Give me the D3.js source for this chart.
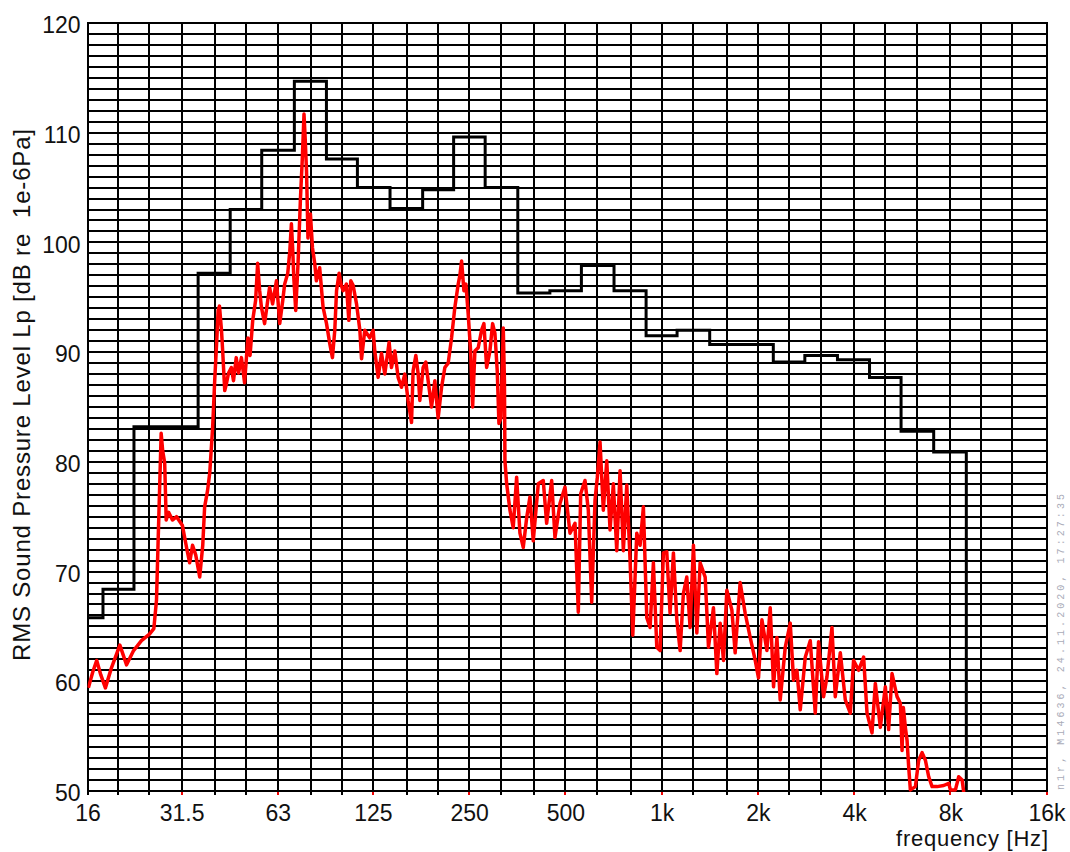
<!DOCTYPE html>
<html>
<head>
<meta charset="utf-8">
<script src="https://cdn.jsdelivr.net/npm/d3@7"></script>
<style>
  body { margin: 0; background: #fff; }
  svg { display: block; font-family: "Liberation Sans", Arial, sans-serif; }
  .grid line { stroke: #000; stroke-width: 2; shape-rendering: crispEdges; }
  .frame { fill: none; stroke: #000; stroke-width: 2; shape-rendering: crispEdges; }
  .axis text { fill: #111; font-size: 23px; }
  .axis path, .axis line { display: none; }
  .bands { fill: none; stroke: #000; stroke-width: 3; stroke-linejoin: miter; }
  .spectrum { fill: none; stroke: #ff0000; stroke-width: 3.5; stroke-linejoin: round; }
  .axis--label { fill: #111; font-size: 24px; }
  .stamp { fill: #a9abb8; font-family: "Liberation Mono", monospace; font-size: 10px; }
</style>
</head>
<body>
<div class="graph"></div>
<script>
// third-octave band levels (black steps)
var bandFreqs = [16, 20, 25, 31.5, 40, 50, 63, 80, 100, 125, 160, 200, 250, 315, 400,
                 500, 630, 800, 1000, 1250, 1600, 2000, 2500, 3150, 4000, 5000, 6300, 8000];
var bandLevels = [65.8, 68.4, 83.2, 83.2, 97.2, 103.0, 108.4, 114.7, 107.6, 105.0, 103.1, 104.8, 109.6, 105.0, 95.4,
                  95.6, 97.9, 95.6, 91.5, 92.0, 90.7, 90.7, 89.1, 89.7, 89.3, 87.7, 82.8, 80.9];

// vertical grid (third octaves) and axis ticks
var gridFreqs = [16, 20, 25, 31.5, 40, 50, 63, 80, 100, 125, 160, 200, 250, 315, 400, 500, 630, 800,
                 1000, 1250, 1600, 2000, 2500, 3150, 4000, 5000, 6300, 8000, 10000, 12500, 16000];
var tickFreqs = [16, 31.5, 63, 125, 250, 500, 1000, 2000, 4000, 8000, 16000];
var tickLabels = ["16", "31.5", "63", "125", "250", "500", "1k", "2k", "4k", "8k", "16k"];
var yTicks = [50, 60, 70, 80, 90, 100, 110, 120];

// narrow band spectrum (red)
var redFreqs = [16.1, 16.6, 17.1, 17.6, 18.2, 19.0, 20.2, 21.2, 22.3, 23.6, 25.0, 25.8, 26.3, 26.6, 26.9, 27.2, 27.5, 27.9, 28.2, 28.7,
  29.5, 30.4, 31.7, 32.7, 33.4, 34.1, 34.9, 35.9, 36.7, 37.2, 38.0, 38.6, 39.4, 40.0, 40.6, 41.0, 41.4, 42.0, 42.4, 43.0,
  43.5, 44.2, 45.1, 45.8, 46.7, 47.5, 48.5, 49.6, 50.8, 51.6, 52.6, 53.7, 54.5, 55.3, 56.0, 57.3, 58.6, 59.4, 60.7, 62.4,
  63.9, 65.3, 66.2, 67.7, 68.7, 69.5, 70.2, 70.7, 71.7, 72.9, 74.2, 75.2, 76.1, 76.8, 77.5, 78.3, 79.7, 80.9, 82.2, 83.2,
  85.2, 87.3, 89.5, 91.6, 93.4, 95.0, 96.2, 98.0, 99.5, 100.9, 103.3, 105.1, 106.6, 108.4, 111.1, 113.8, 115.2, 117.9, 122.2, 125.2,
  126.7, 129.8, 133.0, 136.2, 140.5, 142.9, 146.4, 149.9, 153.6, 157.3, 161.1, 165.1, 167.0, 170.3, 173.2, 175.3, 179.5, 183.0, 186.1, 190.7,
  195.3, 200.0, 205.0, 209.9, 215.0, 220.3, 225.6, 231.1, 233.9, 236.8, 240.8, 244.3, 248.3, 252.7, 256.4, 260.6, 266.9, 273.5, 278.1, 283.6,
  290.4, 296.1, 301.1, 306.1, 309.9, 314.4, 319.7, 322.4, 323.6, 327.6, 335.5, 343.5, 352.0, 360.5, 369.2, 378.4, 387.4, 396.8, 411.4, 426.4,
  437.0, 453.1, 464.0, 481.0, 498.7, 517.0, 536.0, 548.9, 558.4, 576.0, 589.9, 604.5, 619.1, 629.5, 641.9, 657.3, 673.7, 689.9, 706.5, 724.0,
  741.5, 759.4, 778.2, 797.0, 812.7, 836.4, 856.5, 877.2, 898.9, 920.6, 942.7, 966.1, 989.3, 1013, 1038, 1063, 1089, 1116, 1143, 1170,
  1199, 1228, 1258, 1289, 1320, 1369, 1402, 1453, 1489, 1525, 1562, 1600, 1659, 1699, 1761, 1826, 1893, 1963, 2010, 2060,
  2135, 2187, 2240, 2295, 2350, 2437, 2526, 2587, 2651, 2715, 2815, 2918, 3025, 3098, 3212, 3291, 3412, 3494, 3623, 3756,
  3894, 3987, 4134, 4286, 4392, 4553, 4663, 4834, 5012, 5132, 5259, 5453, 5584, 5653, 5706, 5789, 5861, 5929, 6002, 6222,
  6372, 6530, 6688, 6849, 7018, 7277, 7631, 7911, 8008, 8302, 8502, 8713, 8814];
var redLevels = [59.4, 60.8, 61.9, 60.6, 59.4, 61.2, 63.3, 61.5, 62.8, 63.7, 64.3, 64.8, 67.4, 72.6, 77.6, 82.6, 81.0, 79.9, 74.7, 75.4,
  74.7, 75.0, 74.2, 72.1, 70.8, 72.4, 71.5, 69.5, 72.4, 75.9, 77.4, 79.0, 83.1, 87.4, 91.1, 93.8, 94.2, 92.0, 89.9, 86.5,
  87.1, 88.1, 88.6, 87.4, 89.5, 88.1, 89.5, 87.2, 91.3, 89.7, 92.9, 94.7, 98.1, 95.6, 94.1, 92.6, 94.7, 95.9, 94.4, 96.5,
  92.6, 94.7, 96.2, 97.2, 99.2, 101.7, 99.2, 96.8, 93.8, 98.1, 104.1, 107.7, 111.7, 109.3, 106.5, 100.4, 102.6, 99.5, 98.1, 96.5,
  97.7, 94.1, 92.6, 90.8, 89.5, 92.0, 95.6, 97.2, 96.1, 95.6, 96.2, 92.9, 96.5, 96.1, 94.4, 92.0, 89.4, 92.0, 91.3, 92.0,
  90.1, 87.7, 89.9, 88.0, 90.9, 88.6, 90.1, 87.7, 86.8, 88.0, 85.6, 83.6, 88.3, 89.7, 88.0, 85.6, 88.6, 89.1, 87.4, 85.0,
  87.4, 84.0, 86.8, 88.6, 89.0, 91.3, 94.1, 96.2, 97.0, 98.3, 95.6, 96.2, 93.5, 90.1, 85.0, 90.1, 90.4, 92.0, 92.6, 88.6,
  90.1, 92.6, 91.7, 88.3, 83.5, 84.0, 92.2, 87.4, 80.1, 78.0, 75.6, 74.0, 78.6, 73.5, 72.2, 74.9, 76.8, 72.8, 78.0, 78.3,
  74.4, 78.3, 73.1, 76.2, 77.7, 73.5, 74.4, 66.3, 77.1, 78.3, 75.6, 67.2, 76.5, 78.6, 81.8, 75.6, 80.1, 73.8, 78.0, 71.9,
  79.2, 71.9, 77.9, 71.0, 64.2, 73.5, 72.4, 75.9, 65.8, 64.9, 70.8, 63.1, 62.8, 71.7, 71.8, 66.2, 71.7, 65.6, 62.8, 68.0,
  69.5, 64.9, 72.4, 64.4, 70.8, 69.5, 63.1, 66.7, 60.7, 65.3, 61.9, 68.3, 66.5, 62.6, 69.0, 66.2, 64.0, 61.9, 60.3, 65.6,
  62.8, 66.7, 59.5, 64.0, 58.3, 63.1, 65.3, 60.1, 61.0, 57.4, 62.2, 63.7, 57.1, 63.6, 58.6, 60.4, 64.9, 58.6, 62.6, 58.3,
  57.1, 61.9, 61.0, 62.2, 57.1, 55.3, 59.8, 55.8, 59.5, 55.6, 60.7, 58.6, 58.0, 53.7, 57.6, 55.8, 54.6, 52.2, 50.1, 50.4,
  52.8, 53.5, 52.8, 51.3, 50.4, 50.4, 50.5, 50.7, 50.1, 50.1, 51.3, 51.0, 49.9];

var options = { width: 1070, height: 852 },
    plot = { left: 87.5, right: 1046.5, top: 23, bottom: 791 };

var xScale = d3.scaleLog()
    .domain([16, 16000])
    .range([plot.left, plot.right]);
var yScale = d3.scaleLinear()
    .domain([50, 120])
    .range([plot.bottom, plot.top]);

var svg = d3.select(".graph").append("svg")
    .attr("width", options.width)
    .attr("height", options.height);

svg.append("defs").append("clipPath")
    .attr("id", "plot-clip")
  .append("rect")
    .attr("x", plot.left)
    .attr("y", plot.top - 2)
    .attr("width", plot.right - plot.left)
    .attr("height", plot.bottom - plot.top + 3);

// grid: one line per dB, one per third octave
var grid = svg.append("g").attr("class", "grid");
grid.selectAll(".h").data(d3.range(50, 121, 1)).enter().append("line")
    .attr("class", "h")
    .attr("x1", plot.left).attr("x2", plot.right)
    .attr("y1", function(d) { return yScale(d); })
    .attr("y2", function(d) { return yScale(d); });
grid.selectAll(".v").data(gridFreqs).enter().append("line")
    .attr("class", "v")
    .attr("y1", plot.top).attr("y2", plot.bottom)
    .attr("x1", function(d) { return xScale(d); })
    .attr("x2", function(d) { return xScale(d); });

// little ticks under the x axis
svg.append("g").selectAll("line").data(gridFreqs).enter().append("line")
    .attr("x1", function(d) { return xScale(d); })
    .attr("x2", function(d) { return xScale(d); })
    .attr("y1", plot.bottom)
    .attr("y2", plot.bottom + 4)
    .attr("stroke", function(d) { return (tickFreqs.indexOf(d) > 0) ? "#e00" : "#000"; })
    .attr("stroke-width", 2)
    .attr("shape-rendering", "crispEdges");

svg.append("rect")
    .attr("class", "frame")
    .attr("x", plot.left).attr("y", plot.top)
    .attr("width", plot.right - plot.left)
    .attr("height", plot.bottom - plot.top);

// band steps: edges halfway (log) between band centres
var stepPts = [];
bandFreqs.forEach(function(f, i) {
  var lo = i === 0 ? 16 : Math.sqrt(bandFreqs[i - 1] * f),
      hi = i === bandFreqs.length - 1 ? f * Math.pow(2, 1 / 6) : Math.sqrt(bandFreqs[i + 1] * f);
  stepPts.push([lo, bandLevels[i]]);
  stepPts.push([hi, bandLevels[i]]);
});
stepPts.push([stepPts[stepPts.length - 1][0], 50]);

var line = d3.line()
    .x(function(d) { return xScale(d[0]); })
    .y(function(d) { return yScale(d[1]); });

svg.append("path")
    .datum(stepPts)
    .attr("class", "bands")
    .attr("clip-path", "url(#plot-clip)")
    .attr("d", line);

svg.append("path")
    .datum(redFreqs.map(function(f, i) { return [f, redLevels[i]]; }))
    .attr("class", "spectrum")
    .attr("clip-path", "url(#plot-clip)")
    .attr("d", line);

// axes (labels only)
var xAxis = d3.axisBottom(xScale)
    .tickValues(tickFreqs)
    .tickFormat(function(d, i) { return tickLabels[i]; })
    .tickSize(0)
    .tickPadding(0);
svg.append("g")
    .attr("class", "x axis")
    .attr("transform", "translate(0," + (plot.bottom + 14) + ")")
    .call(xAxis);

var yAxis = d3.axisLeft(yScale)
    .tickValues(yTicks)
    .tickFormat(d3.format("d"))
    .tickSize(0)
    .tickPadding(7);
svg.append("g")
    .attr("class", "y axis")
    .attr("transform", "translate(" + plot.left + ",0)")
    .call(yAxis);
svg.selectAll(".y.axis text").attr("dy", "0.42em");

svg.append("text")
    .attr("class", "axis--label")
    .attr("transform", "rotate(-90)")
    .attr("x", -395)
    .attr("y", 30)
    .attr("text-anchor", "middle")
    .attr("textLength", 532)
    .attr("lengthAdjust", "spacing")
    .style("white-space", "pre")
    .text("RMS Sound Pressure Level Lp [dB re  1e-6Pa]");

svg.append("text")
    .attr("class", "axis--label")
    .attr("x", 1048)
    .attr("y", 846)
    .attr("text-anchor", "end")
    .style("font-size", "22px")
    .attr("textLength", 152)
    .attr("lengthAdjust", "spacing")
    .text("frequency [Hz]");

svg.append("text")
    .attr("class", "stamp")
    .attr("transform", "rotate(-90)")
    .attr("x", -790)
    .attr("y", 1064)
    .attr("textLength", 296)
    .attr("lengthAdjust", "spacing")
    .text("n1r, M14636, 24.11.2020, 17:27:35");
</script>
</body>
</html>
